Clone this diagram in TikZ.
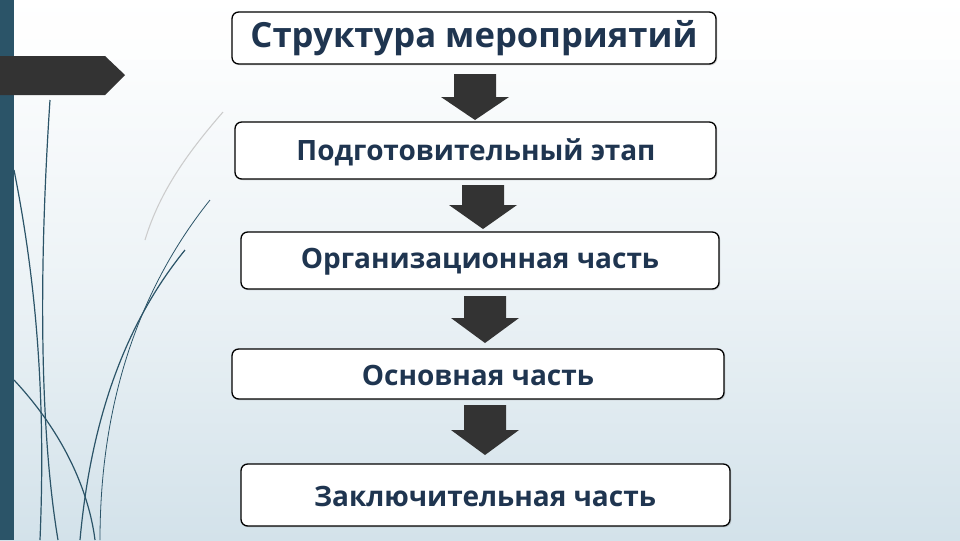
\documentclass[tikz,border=0pt]{standalone}
\usepackage{fontspec}
\setmainfont{Open Sans}
\usetikzlibrary{shadows}
\definecolor{navy}{HTML}{1F3550}
\definecolor{teal}{HTML}{2B5468}
\definecolor{dgray}{HTML}{333333}
\definecolor{bgb}{HTML}{D3E2EA}
\tikzset{
 box/.style={draw=black,line width=1pt,fill=white,rounded corners=5pt,drop shadow={shadow xshift=1pt,shadow yshift=-1pt,opacity=0.25}},
 lbl/.style={text=navy,font=\bfseries\fontsize{21}{24}\selectfont},
 curve/.style={draw=teal,line width=0.9pt}
}
\begin{document}
\begin{tikzpicture}[x=0.75pt,y=-0.75pt]
\useasboundingbox (0,0) rectangle (960,540);
\shade[top color=white,bottom color=bgb,middle color=white!60!bgb] (0,0) rectangle (960,540);
\fill[white,opacity=0.5] (0,0) rectangle (960,60);
% left decoration
\fill[teal] (0,0) rectangle (14,540);
\fill[dgray] (0,56) -- (105,56) -- (125,75) -- (105,95) -- (0,95) -- cycle;
\draw[curve] (50,100) .. controls (40,250) and (38,420) .. (58,540);
\draw[curve] (14,170) .. controls (40,300) and (45,420) .. (40,540);
\draw[curve] (14,380) .. controls (70,440) and (90,500) .. (95,540);
\draw[curve] (185,250) .. controls (120,330) and (90,430) .. (80,540);
\draw[curve,line width=0.6pt] (210,200) .. controls (130,300) and (100,420) .. (100,540);
\draw[gray!40,line width=0.8pt] (223,112) .. controls (190,150) and (160,190) .. (145,240);
% boxes
\draw[box] (232,12) rectangle (716,64);
\node[lbl,font=\bfseries\fontsize{26}{30}\selectfont] (t1) at (474,38) {Структура мероприятий};
\draw[box] (235,122) rectangle (716,179);
\node[lbl] (t2) at (476,152) {Подготовительный этап};
\draw[box] (241,232) rectangle (719,289);
\node[lbl] (t3) at (480,262) {Организационная часть};
\draw[box] (232,349) rectangle (724,399);
\node[lbl] (t4) at (478,375) {Основная часть};
\draw[box] (241,464) rectangle (730,526);
\node[lbl] (t5) at (485,496) {Заключительная часть};
% arrows
\foreach \cx/\yt/\yh/\yb in {475/74/97/120, 483/185/205/229, 485/296/318/343, 485/405/430/455}{
 \fill[dgray] (\cx-21,\yt) -- (\cx+21,\yt) -- (\cx+21,\yh) -- (\cx+34,\yh) -- (\cx,\yb) -- (\cx-34,\yh) -- (\cx-21,\yh) -- cycle;
}
\end{tikzpicture}
\end{document}
